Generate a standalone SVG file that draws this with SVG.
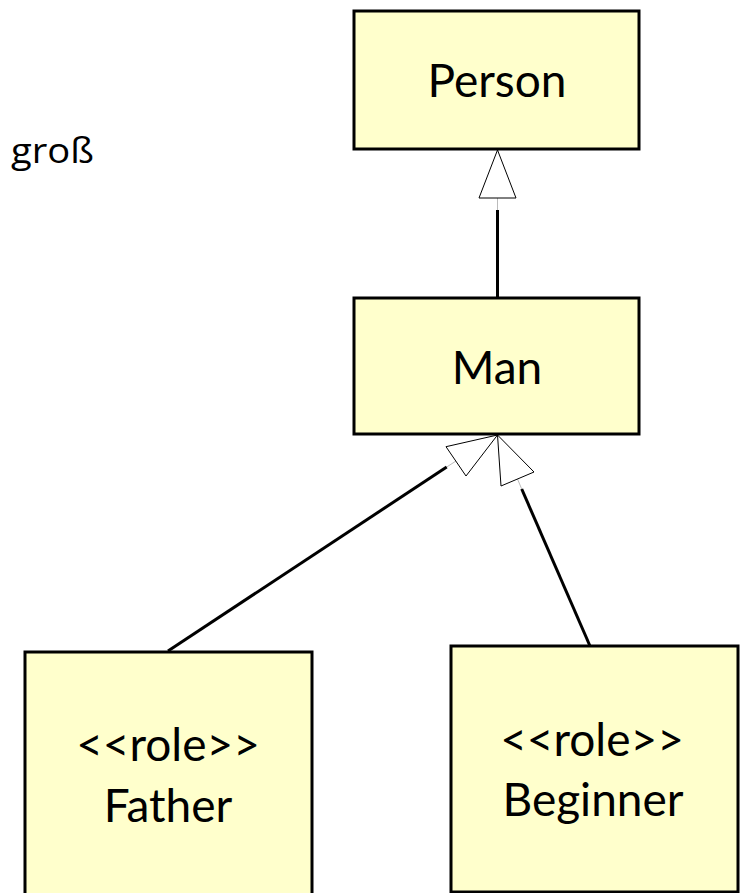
<svg xmlns="http://www.w3.org/2000/svg" width="740" height="893" viewBox="0 0 740 893">
<style>
.box{fill:#ffffcc;stroke:#000;stroke-width:3}
.t{font-family:Lato,"Noto Sans",sans-serif;font-size:46px;fill:#000;text-anchor:middle}
.edge{stroke:#000;stroke-width:3;fill:none}
.gap{stroke:#bbb;stroke-width:1;fill:none}
.head{fill:#fff;stroke:#000;stroke-width:1}
</style>
<rect width="740" height="893" fill="#fff"/>
<text x="11" y="163" font-family="'Open Sans','Noto Sans',sans-serif" font-size="34" textLength="83" lengthAdjust="spacingAndGlyphs" fill="#000">groß</text>
<g id="connectors">
<line class="gap" x1="497.5" y1="198" x2="497.5" y2="210"/>
<line class="edge" x1="497.5" y1="210" x2="497.5" y2="298"/>
<polygon class="head" points="497.5,150 479,198 516,198"/>
<line class="gap" x1="456" y1="461" x2="446.7" y2="467"/>
<line class="edge" x1="446.7" y1="467" x2="168" y2="651"/>
<polygon class="head" points="497.5,435 446,446.7 466,476"/>
<line class="gap" x1="517.5" y1="479" x2="521.7" y2="489"/>
<line class="edge" x1="521.7" y1="489" x2="590" y2="646"/>
<polygon class="head" points="497.5,435 501,486 534,472"/>
</g>
<g id="person">
<rect class="box" x="354" y="11" width="285" height="138"/>
<text class="t" x="497" y="97">Person</text>
</g>
<g id="man">
<rect class="box" x="354" y="298" width="285" height="136"/>
<text class="t" x="497" y="384">Man</text>
</g>
<g id="father">
<rect class="box" x="25" y="652" width="287" height="260"/>
<text class="t" x="168" y="761">&lt;&lt;role&gt;&gt;</text>
<text class="t" x="168" y="822">Father</text>
</g>
<g id="beginner">
<rect class="box" x="451" y="646" width="287" height="246"/>
<text class="t" x="592" y="756">&lt;&lt;role&gt;&gt;</text>
<text class="t" x="593" y="816">Beginner</text>
</g>
</svg>
